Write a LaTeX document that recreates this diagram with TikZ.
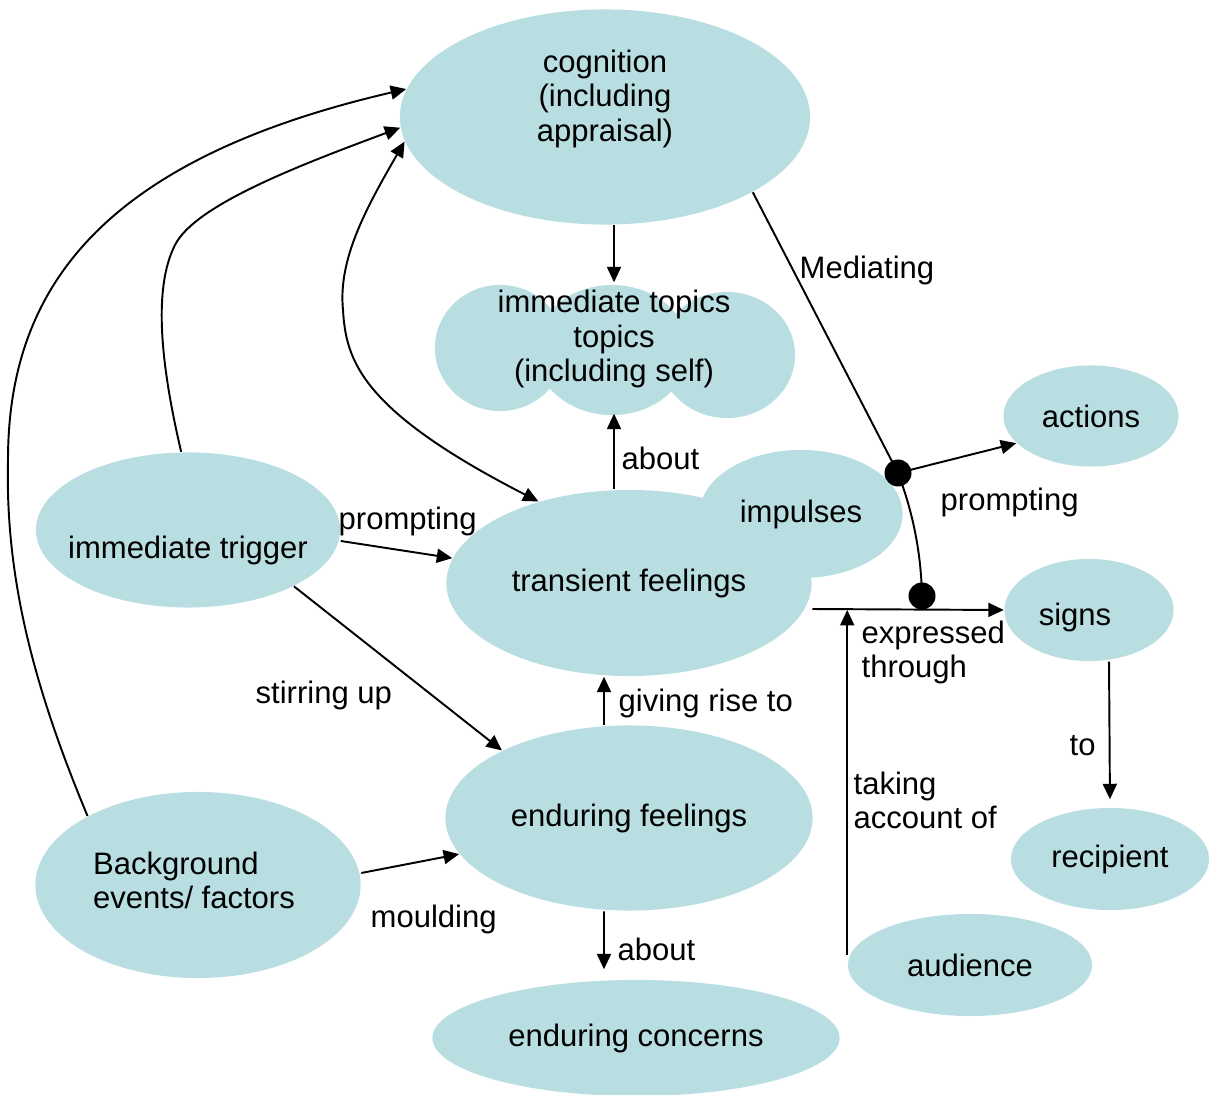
\documentclass[tikz,border=0pt]{standalone}
\usepackage{fontspec}
\setmainfont{Liberation Sans}
\usepackage{xcolor}
\usepackage{tikz}
\usetikzlibrary{shapes.geometric,arrows.meta}
\definecolor{blobcolor}{HTML}{B8DEE2}

\begin{document}
\begin{tikzpicture}[x=0.01cm, y=-0.01cm, font=\fontsize{0.31cm}{0.34cm}\selectfont,
  >={Triangle[length=4.4pt,width=4pt]},
  blob/.style={ellipse, fill=blobcolor, inner sep=0pt, align=center},
  arr/.style={->, line width=0.55pt},
  twoway/.style={<->, line width=0.55pt},
  wire/.style={line width=0.55pt},
  dot/.style={circle, fill=black, inner sep=0pt, minimum size=0.27cm},
  lbl/.style={anchor=west, inner sep=0pt, align=left}]%
\useasboundingbox (0,0) rectangle (1209,1095);%
\fill[blobcolor] (500,348) ellipse [x radius=0.65cm, y radius=0.63cm];%
\fill[blobcolor] (612,350) ellipse [x radius=0.77cm, y radius=0.65cm];%
\fill[blobcolor] (727,355) ellipse [x radius=0.68cm, y radius=0.63cm];%
\node[blob, minimum width=4.1cm, minimum height=2.15cm, label={[align=center, yshift=0.18cm]center:cognition\\(including\\appraisal)}] (cognition) at (605,117) {};%
\node[align=center, minimum width=3.6cm, minimum height=1.34cm, inner sep=0pt] (topics) at (614,339) {immediate topics\\topics\\(including self)};%
\node[blob, minimum width=3.65cm, minimum height=1.86cm] (transient) at (629,583) {transient feelings};%
\node[blob, minimum width=2.03cm, minimum height=1.28cm] (impulses) at (801,514) {impulses};%
\node[blob, minimum width=1.75cm, minimum height=1.01cm] (actions) at (1091,416) {actions};%
\node[blob, minimum width=3.04cm, minimum height=1.55cm, label={[yshift=-0.2cm]center:immediate trigger}] (trigger) at (188,530) {};%
\node[blob, minimum width=1.69cm, minimum height=1.02cm, label={[xshift=-0.14cm, yshift=-0.07cm]center:signs}] (signs) at (1089,610) {};%
\node[blob, minimum width=3.67cm, minimum height=1.85cm] (enduring) at (629,818) {enduring feelings};%
\node[blob, minimum width=3.25cm, minimum height=1.86cm, label={[align=left, xshift=-0.04cm, yshift=0.05cm]center:Background\\events/ factors}] (background) at (198,885) {};%
\node[blob, minimum width=1.98cm, minimum height=1.02cm] (recipient) at (1110,859) {recipient};%
\node[blob, minimum width=2.44cm, minimum height=1.02cm] (audience) at (970,965) {audience};%
\node[blob, minimum width=4.07cm, minimum height=1.16cm] (concerns) at (636,1038) {enduring concerns};%
\coordinate (fork1) at (898,473);%
\coordinate (fork2) at (922,596);%
\coordinate (meet) at (audience.west |- signs.west);%
\draw[arr] (topics.north |- cognition.south) -- ([yshift=-0.11cm]topics.north);%
\draw[arr] (topics.south |- transient.north) -- ([yshift=-0.07cm]topics.south);%
\draw[arr] ([xshift=-0.25cm]enduring.north) -- ([xshift=-0.25cm]transient.south);%
\draw[arr, shorten >=0.1cm] ([xshift=-0.25cm]enduring.south) -- ([xshift=-0.32cm]concerns.north);%
\draw[arr] ([yshift=-0.11cm]trigger.east) -- (transient.172);%
\draw[arr] (trigger.-28) -- (enduring.152);%
\draw[arr] ([yshift=0.12cm]background.east) -- (enduring.192);%
\draw[arr] (background.148) .. controls (35,690) and (5,580) .. (8,460) .. controls (8,290) and (100,160) .. (cognition.172);%
\draw[arr] (trigger.95) .. controls (162,370) and (152,290) .. (175,245) .. controls (195,205) and (300,165) .. (cognition.183);%
\draw[twoway] (cognition.187) .. controls (365,210) and (338,260) .. (343,310) .. controls (346,360) and (360,410) .. (transient.138);%
\draw[wire] (cognition.-27) -- (fork1) .. controls (912,510) and (921,550) .. (fork2);%
\draw[arr] (fork1) -- (actions.200);%
\draw[arr] ([yshift=-0.26cm]transient.east) -- (signs.west);%
\draw[arr] ([yshift=0.1cm]audience.west) -- (meet);%
\draw[arr, shorten >=0.08cm] ([xshift=0.2cm]signs.south) -- (recipient.north);%
\node[dot] (dot1) at (fork1) {};%
\node[dot] (dot2) at (fork2) {};%
\node[lbl] (lmediating) at (799,270) {Mediating};%
\node[lbl] (labout1) at (621,458) {about};%
\node[lbl] (lprompt1) at (338,521) {prompting};%
\node[lbl] (lprompt2) at (940,502) {prompting};%
\node[lbl] (lstirring) at (255,695) {stirring up};%
\node[lbl] (lgiving) at (618,703) {giving rise to};%
\node[lbl] (lexpressed) at (861,652) {expressed\\through};%
\node[lbl] (ltaking) at (853,800) {taking\\account of};%
\node[lbl] (lto) at (1069,746) {to};%
\node[lbl] (lmoulding) at (370,919) {moulding};%
\node[lbl] (labout2) at (617,949) {about};%
\end{tikzpicture}
\end{document}
